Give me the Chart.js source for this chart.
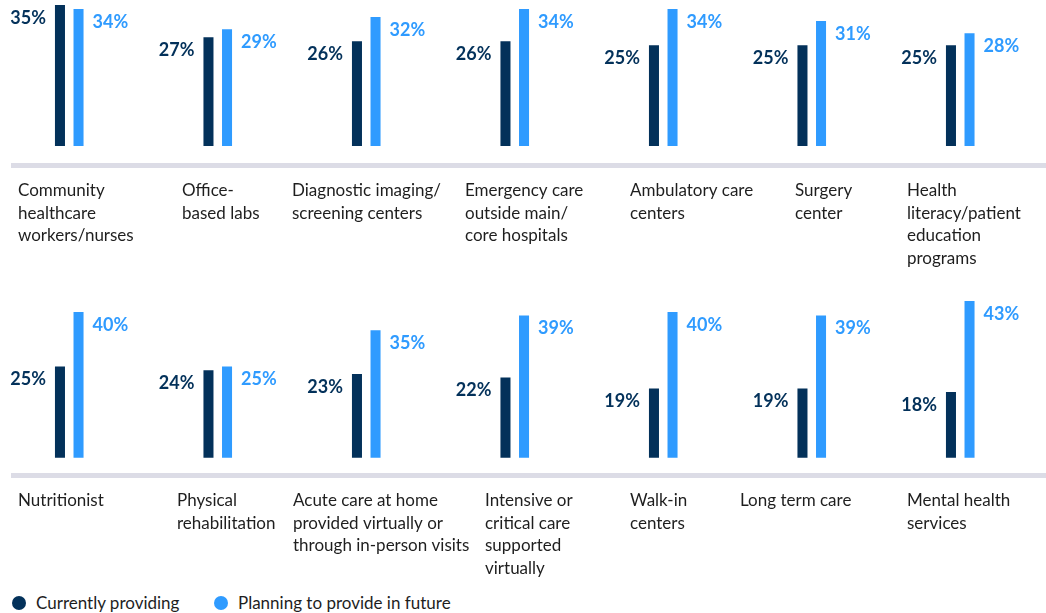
<!DOCTYPE html>
<html>
<head>
<meta charset="utf-8">
<script src="https://cdn.jsdelivr.net/npm/chart.js@4.4.1/dist/chart.umd.min.js"></script>
<style>
  body { margin: 0; background: #fff; width: 1046px; height: 613px; overflow: hidden; position: relative; font-family: Lato, sans-serif; }
  .row { position: absolute; left: -5px; width: 1051px; height: 290px; }
  #row1 { top: 0; }
  #row2 { top: 290px; }
  #legend { position: absolute; left: 0; top: 592px; height: 22px; font-size: 17px; color: #1e1e1e; }
  #legend span.item { position: absolute; top: 0; white-space: nowrap; line-height: 22px; }
  #legend span.dot { position: absolute; top: 4px; width: 14px; height: 14px; border-radius: 50%; }
</style>
</head>
<body>
<div id="row1" class="row"><canvas id="chart1"></canvas></div>
<div id="row2" class="row"><canvas id="chart2"></canvas></div>
<div id="legend"></div>
<script>
var seriesNames = ["Currently providing", "Planning to provide in future"];
var seriesColors = ["#03315a", "#2f9bff"];

var topCategories = [
  ["Community", "healthcare", "workers/nurses"],
  ["Office-", "based labs"],
  ["Diagnostic imaging/", "screening centers"],
  ["Emergency care", "outside main/", "core hospitals"],
  ["Ambulatory care", "centers"],
  ["Surgery", "center"],
  ["Health", "literacy/patient", "education", "programs"]
];
var topCurrent = [35, 27, 26, 26, 25, 25, 25];
var topPlanned = [34, 29, 32, 34, 34, 31, 28];

var bottomCategories = [
  ["Nutritionist"],
  ["Physical", "rehabilitation"],
  ["Acute care at home", "provided virtually or", "through in-person visits"],
  ["Intensive or", "critical care", "supported", "virtually"],
  ["Walk-in", "centers"],
  ["Long term care"],
  ["Mental health", "services"]
];
var bottomCurrent = [25, 24, 23, 22, 19, 19, 18];
var bottomPlanned = [40, 25, 35, 39, 40, 39, 43];

// left edge of each category text block (page px), the text boxes are not evenly placed
var topLabelX = [18, 182, 292, 465, 630, 795, 907];
var bottomLabelX = [18, 177, 293, 485, 630, 740, 907];
var rowLeft = -5;

// grey band under each row + category text
var bandPlugin = {
  id: 'band',
  beforeDatasetsDraw: function(chart) {
    var ctx = chart.ctx;
    var area = chart.chartArea;
    ctx.save();
    ctx.fillStyle = '#dcdce6';
    ctx.fillRect(11 - rowLeft, area.bottom, chart.width, 5);

    var labels = chart.data.labels;
    var xs = chart.options.plugins.band.labelX;
    ctx.fillStyle = '#1e1e1e';
    ctx.font = '17px Lato, sans-serif';
    ctx.textAlign = 'left';
    ctx.textBaseline = 'middle';
    for (var i = 0; i < labels.length; i++) {
      for (var k = 0; k < labels[i].length; k++) {
        ctx.fillText(labels[i][k], xs[i] - rowLeft, area.bottom + 5 + 22.5 + k * 22.7);
      }
    }
    ctx.restore();
  }
};

// percentage next to every bar
var valuePlugin = {
  id: 'values',
  afterDatasetsDraw: function(chart) {
    var ctx = chart.ctx;
    ctx.save();
    ctx.font = 'bold 18px Lato, sans-serif';
    ctx.textBaseline = 'middle';
    chart.data.datasets.forEach(function(ds, i) {
      var meta = chart.getDatasetMeta(i);
      ctx.fillStyle = ds.backgroundColor;
      meta.data.forEach(function(bar, j) {
        var x;
        if (i === 0) {
          ctx.textAlign = 'right';
          x = bar.x - bar.width / 2 - 9;
        } else {
          ctx.textAlign = 'left';
          x = bar.x + bar.width / 2 + 9;
        }
        ctx.fillText(ds.data[j] + '%', x, bar.y + 13);
      });
    });
    ctx.restore();
  }
};

function makeChart(id, categories, current, planned, maxVal, padTop, labelX) {
  var ctx = document.getElementById(id).getContext('2d');
  return new Chart(ctx, {
    type: 'bar',
    data: {
      labels: categories,
      datasets: [{
        label: seriesNames[0],
        data: current,
        backgroundColor: seriesColors[0],
        categoryPercentage: 0.25,
        barPercentage: 0.54
      }, {
        label: seriesNames[1],
        data: planned,
        backgroundColor: seriesColors[1],
        categoryPercentage: 0.25,
        barPercentage: 0.54
      }]
    },
    options: {
      responsive: true,
      maintainAspectRatio: false,
      animation: false,
      layout: { padding: { top: padTop, bottom: 290 - padTop - (id === 'chart1' ? 158 : 172), left: 0, right: 11.5 } },
      scales: {
        x: { display: false },
        y: { display: false, min: -4.2, max: maxVal }
      },
      plugins: {
        legend: { display: false },
        tooltip: { enabled: false },
        band: { labelX: labelX }
      }
    },
    plugins: [bandPlugin, valuePlugin]
  });
}

var chart1 = makeChart('chart1', topCategories, topCurrent, topPlanned, 35, 5, topLabelX);
var chart2 = makeChart('chart2', bottomCategories, bottomCurrent, bottomPlanned, 43, 11, bottomLabelX);

// html legend from the datasets
var legendX = [12, 214];
var legend = document.getElementById('legend');
chart2.data.datasets.forEach(function(ds, i) {
  var item = document.createElement('span');
  item.className = 'item';
  item.style.left = legendX[i] + 'px';
  var dot = document.createElement('span');
  dot.className = 'dot';
  dot.style.background = ds.backgroundColor;
  dot.style.left = '0px';
  var txt = document.createElement('span');
  txt.style.marginLeft = '24px';
  txt.textContent = ds.label;
  item.appendChild(dot);
  item.appendChild(txt);
  legend.appendChild(item);
});
</script>
</body>
</html>
